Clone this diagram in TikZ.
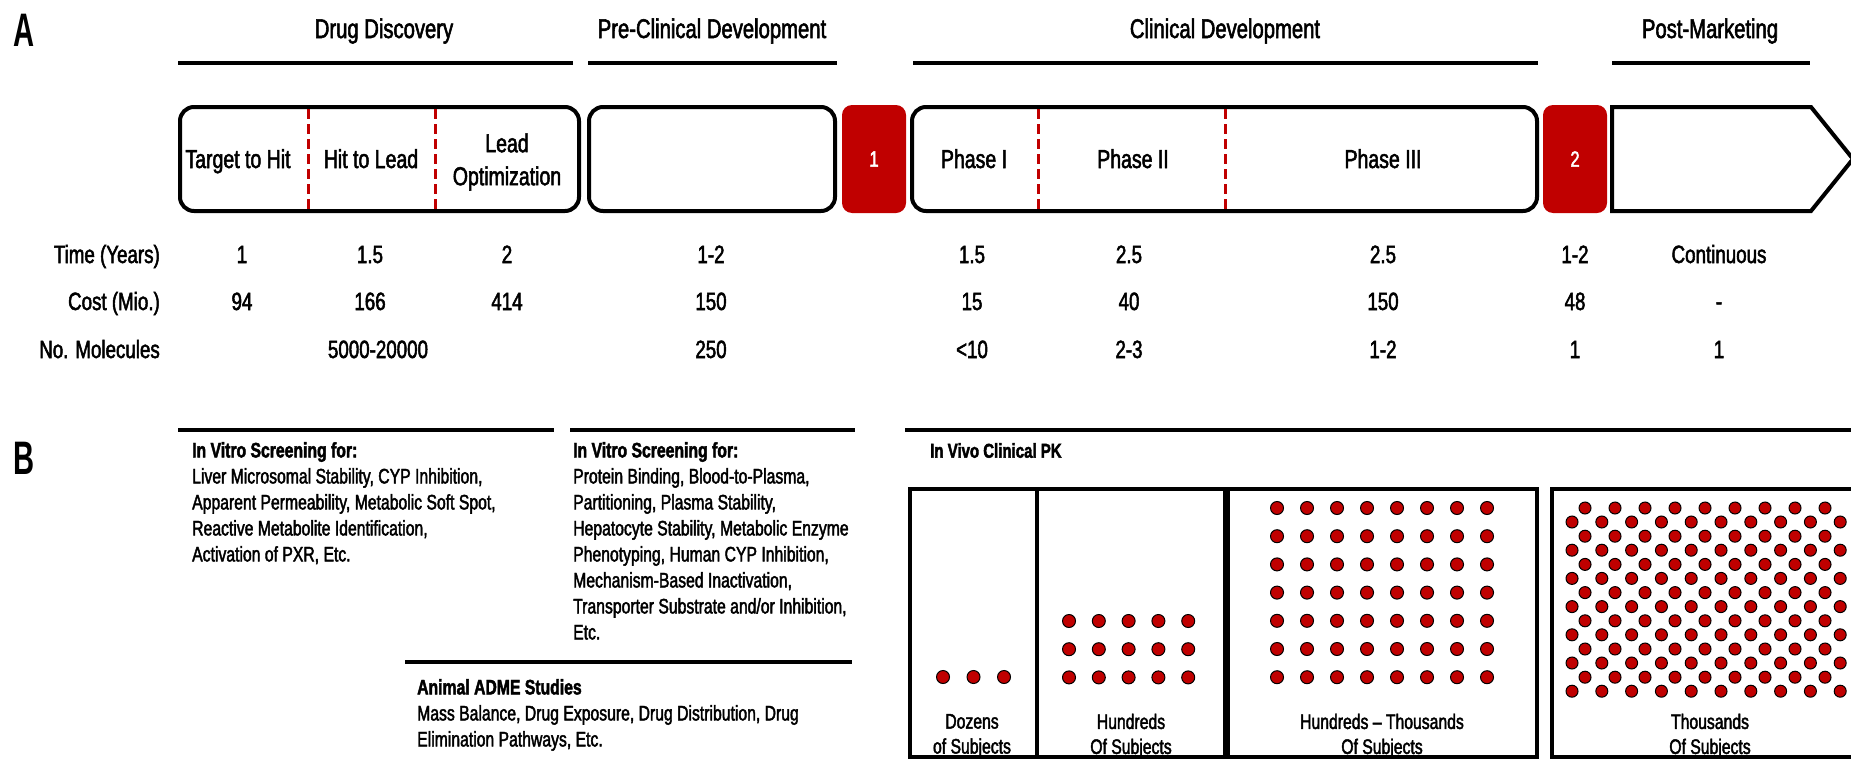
\documentclass[tikz,border=0pt]{standalone}
\usepackage{fontspec}
\setmainfont[FakeStretch=0.75, FakeBold=2]{Liberation Sans}
\newfontfamily\panelfont[FakeStretch=0.62]{Liberation Sans}
\definecolor{phasered}{HTML}{C00000}
\newcommand{\headtxt}{\fontsize{27}{32}\selectfont}
\newcommand{\boxtxt}{\fontsize{26}{33}\selectfont}
\newcommand{\rowtxt}{\fontsize{25}{30}\selectfont}
\newcommand{\notetxt}{\fontsize{21}{26}\selectfont}
\newcommand{\subjtxt}{\fontsize{21}{25}\selectfont}
\begin{document}
\begin{tikzpicture}[x=1pt, y=-1pt,
    phasebox/.style={line width=4pt, rounded corners=14pt},
    gatebox/.style={fill=phasered, rounded corners=10pt, inner sep=0pt, text=white, font=\fontsize{22}{22}\selectfont, minimum width=64pt, minimum height=108pt},
    divider/.style={phasered, line width=3pt, dash pattern=on 10pt off 5pt},
    bar/.style={line width=4.5pt},
    cell/.style={font=\rowtxt, inner sep=0pt, anchor=base},
    note/.style={anchor=north west, align=left, inner sep=0pt, font=\notetxt},
    subj/.style={align=center, inner sep=0pt, font=\subjtxt},
    dot/.style={fill=phasered, draw=black, line width=1pt},
    panel/.style={font=\panelfont\bfseries\fontsize{47}{47}\selectfont, inner sep=0pt}]
    \useasboundingbox (0,0) rectangle (1851,760);
    \clip (0,0) rectangle (1851,760);
    \fill[white] (0,0) rectangle (1851,760);

    \node[panel] (tagA) at (24,30) {A};
    \node[cell, font=\headtxt] (hdisc) at (384,38) {Drug Discovery};
    \node[cell, font=\headtxt] (hpre) at (712,38) {Pre-Clinical Development};
    \node[cell, font=\headtxt] (hclin) at (1225,38) {Clinical Development};
    \node[cell, font=\headtxt] (hpost) at (1710,38) {Post-Marketing};
    \draw[bar] (178,63) -- (573,63);
    \draw[bar] (588,63) -- (837,63);
    \draw[bar] (913,63) -- (1538,63);
    \draw[bar] (1612,63) -- (1810,63);

    \draw[phasebox] (180,107) rectangle (579,211);
    \draw[phasebox] (589,107) rectangle (835,211);
    \draw[phasebox] (912,107) rectangle (1537,211);
    \draw[line width=4pt] (1612,107) -- (1811,107) -- (1853,159) -- (1811,211) -- (1612,211) -- cycle;
    \node[gatebox] (gate1) at (874,159) {1};
    \node[gatebox] (gate2) at (1575,159) {2};
    \draw[divider] (308,109) -- (308,209);
    \draw[divider] (435,109) -- (435,209);
    \draw[divider] (1038,109) -- (1038,209);
    \draw[divider] (1225,109) -- (1225,209);

    \node[cell, font=\boxtxt] (t2h) at (238,168) {Target to Hit};
    \node[cell, font=\boxtxt] (h2l) at (371,168) {Hit to Lead};
    \node[align=center, inner sep=0pt, font=\boxtxt] (leadopt) at (507,162) {Lead\\Optimization};
    \node[cell, font=\boxtxt] (ph1) at (974,168) {Phase I};
    \node[cell, font=\boxtxt] (ph2) at (1133,168) {Phase II};
    \node[cell, font=\boxtxt] (ph3) at (1383,168) {Phase III};

    \node[cell, anchor=base east] (ltime) at (160,263) {Time (Years)};
    \node[cell, anchor=base east] (lcost) at (160,310) {Cost (Mio.)};
    \node[cell, anchor=base east] (lmol) at (160,358) {No. Molecules};
    \foreach \x/\v [count=\i] in {242/1, 370/1.5, 507/2, 711/1-2, 972/1.5, 1129/2.5, 1383/2.5, 1575/1-2, 1719/Continuous}
        \node[cell] (time\i) at (\x,263) {\v};
    \foreach \x/\v [count=\i] in {242/94, 370/166, 507/414, 711/150, 972/15, 1129/40, 1383/150, 1575/48, 1719/-}
        \node[cell] (cost\i) at (\x,310) {\v};
    \foreach \x/\v [count=\i] in {378/5000-20000, 711/250, 972/{<10}, 1129/2-3, 1383/1-2, 1575/1, 1719/1}
        \node[cell] (mol\i) at (\x,358) {\v};

    \node[panel] (tagB) at (24,458) {B};
    \draw[bar] (178,430) -- (554,430);
    \draw[bar] (570,430) -- (855,430);
    \draw[bar] (905,430) -- (1860,430);
    \draw[bar] (405,662) -- (852,662);
    \node[note] (screen1) at (192,442) {\textbf{In Vitro Screening for:}\\Liver Microsomal Stability, CYP Inhibition,\\Apparent Permeability, Metabolic Soft Spot,\\Reactive Metabolite Identification,\\Activation of PXR, Etc.};
    \node[note] (screen2) at (573,442) {\textbf{In Vitro Screening for:}\\Protein Binding, Blood-to-Plasma,\\Partitioning, Plasma Stability,\\Hepatocyte Stability, Metabolic Enzyme\\Phenotyping, Human CYP Inhibition,\\Mechanism-Based Inactivation,\\Transporter Substrate and/or Inhibition,\\Etc.};
    \node[note] (adme) at (417,679) {\textbf{Animal ADME Studies}\\Mass Balance, Drug Exposure, Drug Distribution, Drug\\Elimination Pathways, Etc.};
    \node[note, font=\fontsize{20}{26}\selectfont] (invivo) at (930,443) {\textbf{In Vivo Clinical PK}};

    \draw[line width=4pt] (910,489) rectangle (1037,757);
    \draw[line width=4pt] (1037,489) rectangle (1225,757);
    \draw[line width=4pt] (1228,489) rectangle (1537,757);
    \draw[line width=4pt] (1552,489) rectangle (1880,757);
    \foreach \x in {0,1,2}
        \filldraw[dot] (943+30.5*\x,677) circle (6.5pt);
    \foreach \x in {0,...,4}
        \foreach \y in {0,1,2}
            \filldraw[dot] (1069+29.8*\x,621+28.2*\y) circle (6.5pt);
    \foreach \x in {0,...,7}
        \foreach \y in {0,...,6}
            \filldraw[dot] (1277+30*\x,508+28.2*\y) circle (6.5pt);
    \foreach \x in {0,...,8}
        \foreach \y in {0,...,6}
            \filldraw[dot] (1585+30*\x,508+28.2*\y) circle (6pt);
    \foreach \x in {0,...,9}
        \foreach \y in {0,...,6}
            \filldraw[dot] (1572+29.8*\x,522+28.2*\y) circle (6pt);
    \node[subj] (dozens) at (972,736) {Dozens\\of Subjects};
    \node[subj] (hundreds) at (1131,736) {Hundreds\\Of Subjects};
    \node[subj] (hundthou) at (1382,736) {Hundreds \textendash{} Thousands\\Of Subjects};
    \node[subj] (thousands) at (1710,736) {Thousands\\Of Subjects};
\end{tikzpicture}
\end{document}
